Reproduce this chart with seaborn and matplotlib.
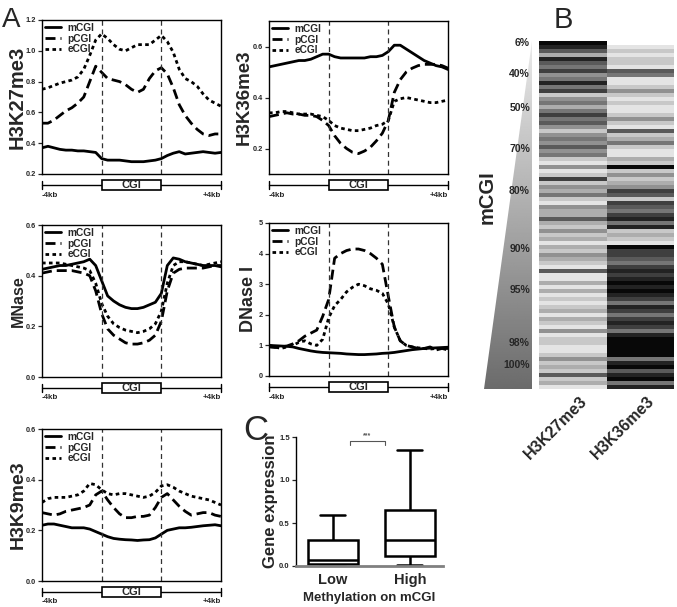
import numpy as np
import pandas as pd
import matplotlib
matplotlib.use("Agg")
import matplotlib.pyplot as plt
import matplotlib.transforms as mtransforms
from matplotlib.patches import Rectangle, Polygon
import seaborn as sns

# ---- profile data (position 0..3 : flank | CGI | flank) ----
pos = [i / 10 for i in range(31)]

k27_m = [0.37, 0.38, 0.37, 0.36, 0.355, 0.355, 0.35, 0.35, 0.345, 0.34, 0.30, 0.29, 0.29, 0.29, 0.285, 0.28,
         0.28, 0.28, 0.285, 0.29, 0.30, 0.32, 0.335, 0.345, 0.33, 0.335, 0.34, 0.345, 0.34, 0.335, 0.34]
k27_p = [0.53, 0.53, 0.55, 0.58, 0.61, 0.63, 0.66, 0.70, 0.80, 0.90, 0.86, 0.82, 0.81, 0.80, 0.78, 0.75,
         0.73, 0.75, 0.82, 0.87, 0.89, 0.85, 0.76, 0.65, 0.58, 0.53, 0.49, 0.46, 0.45, 0.46, 0.46]
k27_e = [0.75, 0.76, 0.775, 0.79, 0.80, 0.81, 0.83, 0.88, 0.97, 1.07, 1.11, 1.08, 1.04, 1.01, 1.00, 1.02,
         1.04, 1.04, 1.04, 1.07, 1.10, 1.06, 0.99, 0.88, 0.82, 0.80, 0.77, 0.72, 0.68, 0.66, 0.64]

k36_m = [0.52, 0.525, 0.53, 0.535, 0.54, 0.545, 0.545, 0.55, 0.56, 0.57, 0.57, 0.56, 0.555, 0.555, 0.555, 0.555,
         0.555, 0.56, 0.56, 0.565, 0.58, 0.605, 0.605, 0.59, 0.575, 0.56, 0.545, 0.535, 0.525, 0.52, 0.51]
k36_p = [0.325, 0.33, 0.335, 0.34, 0.335, 0.335, 0.33, 0.33, 0.325, 0.31, 0.29, 0.25, 0.22, 0.20, 0.185, 0.18,
         0.19, 0.205, 0.23, 0.26, 0.31, 0.42, 0.47, 0.50, 0.515, 0.525, 0.53, 0.53, 0.53, 0.525, 0.515]
k36_e = [0.34, 0.34, 0.345, 0.345, 0.34, 0.335, 0.335, 0.335, 0.33, 0.325, 0.31, 0.29, 0.28, 0.275, 0.27, 0.27,
         0.275, 0.28, 0.29, 0.295, 0.31, 0.385, 0.395, 0.40, 0.395, 0.39, 0.385, 0.38, 0.38, 0.385, 0.39]

mn_m = [0.425, 0.43, 0.435, 0.44, 0.44, 0.445, 0.45, 0.455, 0.465, 0.44, 0.38, 0.32, 0.30, 0.285, 0.275, 0.27,
        0.27, 0.275, 0.285, 0.295, 0.33, 0.44, 0.47, 0.465, 0.455, 0.45, 0.445, 0.44, 0.44, 0.44, 0.435]
mn_p = [0.41, 0.415, 0.42, 0.42, 0.42, 0.42, 0.415, 0.41, 0.40, 0.34, 0.25, 0.19, 0.165, 0.15, 0.135, 0.13,
        0.13, 0.135, 0.145, 0.165, 0.22, 0.34, 0.41, 0.425, 0.43, 0.43, 0.43, 0.43, 0.435, 0.44, 0.44]
mn_e = [0.45, 0.45, 0.45, 0.45, 0.445, 0.44, 0.435, 0.43, 0.42, 0.37, 0.29, 0.24, 0.21, 0.195, 0.185, 0.18,
        0.175, 0.18, 0.19, 0.21, 0.26, 0.37, 0.44, 0.455, 0.455, 0.45, 0.445, 0.44, 0.445, 0.45, 0.455]

dn_m = [1.0, 0.99, 0.98, 0.97, 0.95, 0.90, 0.86, 0.82, 0.79, 0.77, 0.76, 0.75, 0.74, 0.72, 0.71, 0.70,
        0.70, 0.71, 0.72, 0.74, 0.75, 0.77, 0.80, 0.83, 0.86, 0.88, 0.90, 0.91, 0.92, 0.93, 0.94]
dn_p = [0.95, 0.93, 0.95, 0.98, 1.05, 1.15, 1.30, 1.40, 1.50, 1.95, 2.50, 3.85, 4.00, 4.10, 4.15, 4.15,
        4.10, 4.00, 3.85, 3.65, 2.60, 1.60, 1.15, 1.00, 0.95, 0.90, 0.90, 0.95, 0.85, 0.90, 0.85]
dn_e = [1.0, 0.95, 0.90, 0.95, 1.0, 1.10, 1.15, 1.05, 1.0, 1.20, 1.90, 2.30, 2.50, 2.75, 2.90, 3.00,
        2.95, 2.85, 2.80, 2.70, 2.35, 1.60, 1.15, 1.00, 0.95, 0.92, 0.90, 0.88, 0.90, 0.90, 0.90]

k9_m = [0.22, 0.225, 0.225, 0.22, 0.215, 0.21, 0.21, 0.21, 0.205, 0.195, 0.185, 0.175, 0.168, 0.165, 0.163, 0.162,
        0.16, 0.162, 0.163, 0.17, 0.185, 0.20, 0.205, 0.21, 0.21, 0.212, 0.215, 0.218, 0.22, 0.222, 0.218]
k9_p = [0.27, 0.265, 0.26, 0.265, 0.275, 0.28, 0.285, 0.29, 0.30, 0.34, 0.355, 0.32, 0.29, 0.265, 0.25, 0.25,
        0.255, 0.255, 0.26, 0.29, 0.33, 0.345, 0.32, 0.295, 0.275, 0.26, 0.265, 0.27, 0.27, 0.26, 0.255]
k9_e = [0.31, 0.325, 0.33, 0.33, 0.33, 0.335, 0.34, 0.355, 0.385, 0.38, 0.36, 0.345, 0.34, 0.345, 0.345, 0.34,
        0.335, 0.33, 0.335, 0.35, 0.375, 0.38, 0.37, 0.355, 0.345, 0.335, 0.33, 0.325, 0.32, 0.31, 0.30]

# ---- box plot: min, q1, median, q3, max ----
low_stats = [0.01, 0.02, 0.07, 0.30, 0.59]
high_stats = [0.01, 0.12, 0.30, 0.65, 1.35]

# ---- heatmap rows (0 = white, 9 = black), top to bottom ----
k27_rows = ("986386574585724535756" "4245464521412724352143"
            "3632423132432161131312" "1231321412211242326231")
k36_rows = ("012122165112421211242" "1623521132924234762765"
            "7858232197765787898987" "5875787589999958968958")
pct_labels = ["6%", "40%", "50%", "70%", "80%", "90%", "95%", "98%", "100%"]
pct_rows = [0.3, 8, 16.5, 26.8, 37.2, 51.8, 62, 75.2, 80.8]

sns.set_style("ticks")
plt.rcParams["font.family"] = ["Liberation Sans", "DejaVu Sans"]
plt.rcParams["font.weight"] = "bold"
plt.rcParams["axes.labelweight"] = "bold"

W, H = 677, 607
fig = plt.figure(figsize=(W / 100, H / 100), dpi=100)


def add_ax(x0, y0, x1, y1):
    return fig.add_axes([x0 / W, 1 - y1 / H, (x1 - x0) / W, (y1 - y0) / H])


styles = {"mCGI": "-", "pCGI": (0, (3.6, 1.8)), "eCGI": (0, (1.3, 1.2))}


def profile(ax, m, p, e, ylabel, ylim, yticks, fmt, lsize, lpad):
    for name, vals in (("mCGI", m), ("pCGI", p), ("eCGI", e)):
        sns.lineplot(x=pos, y=vals, ax=ax, color="black", lw=2.0,
                     linestyle=styles[name], label=name)
    for xx in (1, 2):
        ax.axvline(xx, color="#333333", lw=0.9, linestyle=(0, (4, 3)))
    ax.set_xlim(0, 3)
    ax.set_ylim(*ylim)
    ax.set_xticks([])
    ax.set_yticks(yticks)
    ax.set_yticklabels([fmt.format(t) for t in yticks])
    ax.tick_params(axis="y", length=3, width=0.9, labelsize=5.3, pad=1.5)
    ax.set_xlabel("")
    ax.set_ylabel(ylabel, fontsize=lsize, labelpad=lpad)
    for sp in ax.spines.values():
        sp.set_visible(True)
        sp.set_color("black")
        sp.set_linewidth(1.0)
    ax.legend(loc="upper left", frameon=False, fontsize=7.3, handlelength=1.6,
              handletextpad=0.6, labelspacing=0.05, borderaxespad=0.1,
              borderpad=0.2)
    tr = mtransforms.blended_transform_factory(ax.transData, ax.transAxes)
    ax.plot([0, 3], [-0.072, -0.072], transform=tr, color="black", lw=1.0, clip_on=False)
    for xx in (0, 3):
        ax.plot([xx, xx], [-0.045, -0.1], transform=tr, color="black", lw=1.0, clip_on=False)
    ax.add_patch(Rectangle((1, -0.104), 1, 0.064, transform=tr, facecolor="white",
                           edgecolor="black", lw=1.2, clip_on=False, zorder=3))
    ax.text(1.5, -0.074, "CGI", transform=tr, ha="center", va="center", fontsize=8, zorder=4)
    ax.text(0.0, -0.115, "-4kb", transform=tr, ha="left", va="top", fontsize=5.8)
    ax.text(3.0, -0.115, "+4kb", transform=tr, ha="right", va="top", fontsize=5.8)


ax1 = add_ax(42, 20, 221, 174)
profile(ax1, k27_m, k27_p, k27_e, "H3K27me3", (0.2, 1.2), [0.2, 0.4, 0.6, 0.8, 1.0, 1.2], "{:.1f}", 14.5, -1)
ax2 = add_ax(269, 21, 448, 174)
profile(ax2, k36_m, k36_p, k36_e, "H3K36me3", (0.1, 0.7), [0.2, 0.4, 0.6], "{:.1f}", 13.5, -0.5)
ax3 = add_ax(42, 225, 221, 377)
profile(ax3, mn_m, mn_p, mn_e, "MNase", (0, 0.6), [0.0, 0.2, 0.4, 0.6], "{:.1f}", 11.5, 0)
ax4 = add_ax(269, 223, 448, 376)
profile(ax4, dn_m, dn_p, dn_e, "DNase I", (0, 5), [0, 1, 2, 3, 4, 5], "{:d}", 13, 1)
ax5 = add_ax(42, 429, 221, 581)
profile(ax5, k9_m, k9_p, k9_e, "H3K9me3", (0, 0.6), [0.0, 0.2, 0.4, 0.6], "{:.1f}", 14, -1)

# ---- panel C ----
axc = add_ax(296, 437, 443, 566)
box_df = pd.DataFrame({"group": ["Low"] * 5 + ["High"] * 5, "expr": low_stats + high_stats})
sns.boxplot(data=box_df, x="group", y="expr", ax=axc, whis=(0, 100), width=0.65,
            color="white", linecolor="black", linewidth=1.8, showfliers=False)
axc.set_xlim(-0.48, 1.43)
axc.set_ylim(0, 1.5)
axc.set_yticks([0.0, 0.5, 1.0, 1.5])
axc.set_yticklabels(["0.0", "0.5", "1.0", "1.5"])
axc.tick_params(axis="y", length=3, width=0.9, labelsize=5.5, pad=1.5)
axc.tick_params(axis="x", length=0, labelsize=10.5, pad=5)
axc.spines["right"].set_visible(False)
axc.spines["top"].set_visible(False)
axc.spines["left"].set_color("black")
axc.spines["left"].set_linewidth(1.0)
axc.spines["bottom"].set_color("#808080")
axc.spines["bottom"].set_linewidth(2.0)
axc.set_ylabel("Gene expression", fontsize=12, labelpad=1)
axc.set_xlabel("Methylation on mCGI", fontsize=9.5, labelpad=4)
axc.plot([0.22, 0.22, 0.68, 0.68], [1.41, 1.45, 1.45, 1.41], color="#555555", lw=0.8, clip_on=False)
axc.text(0.45, 1.47, "***", ha="center", va="bottom", fontsize=5, color="#555555")

# ---- panel B ----
axt = add_ax(484, 41, 532, 389)
grad = np.linspace(0.42, 0.92, 256).reshape(-1, 1)
img = axt.imshow(grad, cmap="gray", vmin=0, vmax=1, extent=(0, 1, 0, 1),
                 origin="lower", aspect="auto")
tri = Polygon([(0, 0), (1, 0), (1, 1)], closed=True, transform=axt.transData,
              facecolor="none", edgecolor="none")
axt.add_patch(tri)
img.set_clip_path(tri)
axt.set_xlim(0, 1)
axt.set_ylim(0, 1)
axt.axis("off")

axh = add_ax(539, 41, 674, 389)
heat = pd.DataFrame({"H3K27me3": [int(c) for c in k27_rows],
                     "H3K36me3": [int(c) for c in k36_rows]})
sns.heatmap(heat, ax=axh, cmap="gray_r", vmin=0, vmax=9.3, cbar=False, yticklabels=False)
axh.set_yticks(pct_rows)
axh.set_yticklabels(pct_labels)
axh.tick_params(axis="y", length=0, labelsize=7.5, pad=6.5)
axh.tick_params(axis="x", length=0, labelsize=11.5, pad=7)
for lab in axh.get_xticklabels():
    lab.set_rotation(45)
    lab.set_ha("right")
    lab.set_va("center")
    lab.set_rotation_mode("anchor")
    lab.set_transform(lab.get_transform() + mtransforms.ScaledTranslation(0.12, 0, fig.dpi_scale_trans))

fig.text(487 / W, 1 - 197 / H, "mCGI", rotation=90, ha="center", va="center", fontsize=14.5)

# panel letters
fig.text(2 / W, 1 - 27 / H, "A", fontsize=20, fontweight="normal", va="baseline")
fig.text(554 / W, 1 - 28 / H, "B", fontsize=21, fontweight="normal", va="baseline")
fig.text(243 / W, 1 - 440 / H, "C", fontsize=25, fontweight="normal", va="baseline")

fig.savefig("out.png", dpi=100, facecolor="white")
